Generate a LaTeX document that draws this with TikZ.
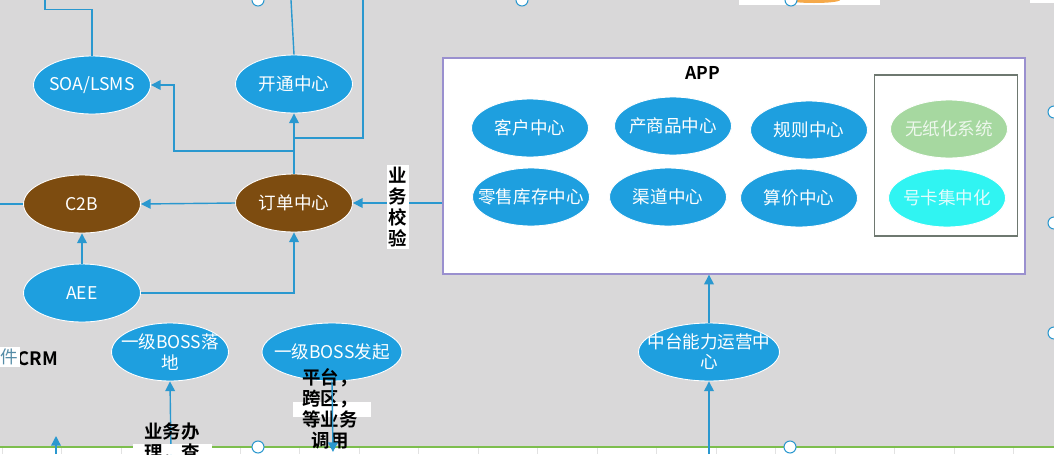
\documentclass[tikz,border=0pt]{standalone}
\usepackage{fontspec}
\setmainfont{Noto Sans CJK SC}[BoldFont={Noto Sans CJK SC Bold}]
\usetikzlibrary{arrows.meta,shapes.geometric}

\definecolor{canvas}{HTML}{D9D8D9}
\definecolor{sysblue}{HTML}{1E9FDF}
\definecolor{corebrown}{HTML}{7D4C10}
\definecolor{paperless}{HTML}{A6D8A0}
\definecolor{numcard}{HTML}{30F4F2}
\definecolor{linkblue}{HTML}{2A98CF}
\definecolor{appframe}{HTML}{9A90CF}
\definecolor{subframe}{HTML}{6E7870}
\definecolor{rulegreen}{HTML}{7DBE4E}
\definecolor{gridgray}{HTML}{E2E2E2}
\definecolor{peach}{HTML}{F5A94A}

\tikzset{
  sys/.style={ellipse, fill=sysblue, draw=white, line width=0.5pt,
    minimum width=2.34cm, minimum height=1.16cm, inner sep=0pt},
  core/.style={sys, fill=corebrown},
  txt/.style={text=white, font=\fontsize{10}{11.5}\selectfont, align=center, inner sep=0pt},
  link/.style={draw=linkblue, line width=0.8pt},
  arrow/.style={link, -{Triangle[length=5.5pt,width=5.5pt]}},
  note/.style={font=\bfseries\fontsize{10.5}{12}\selectfont, align=center, inner sep=1pt},
  handle/.style={draw=linkblue, fill=white, line width=0.6pt},
}

\begin{document}
\begin{tikzpicture}[x=0.02cm, y=-0.02cm]
\useasboundingbox (0,0) rectangle (1054,454);
\fill[canvas] (0,0) rectangle (1054,454);
% sheet below and above
\fill[white] (0,447) rectangle (1054,454);
\foreach \gx in {0,...,17}
  \draw[gridgray] ({2+59.5*\gx},447) -- ({2+59.5*\gx},454);
\draw[rulegreen, line width=1.2pt] (0,447) -- (1054,447);
\fill[white] (739,0) rectangle (880,5);
\fill[peach] (814,0) ellipse (26 and 3);
\fill[white] (1030,0) rectangle (1054,3);

% APP frame
\node[draw=appframe, fill=white, line width=0.8pt, minimum width=11.64cm,
  minimum height=4.32cm, inner sep=0pt] (app) at (734,166) {};
\node[font=\bfseries\fontsize{10}{12}\selectfont] (appTitle) at (703,73) {APP};
\node[draw=subframe, line width=0.8pt, minimum width=2.86cm,
  minimum height=3.22cm, inner sep=0pt] (channel) at (946,155.5) {};

\node[sys, label={[txt]center:客户中心}] (kehu) at (530,128) {};
\node[sys, label={[txt]center:产商品中心}] (chanpin) at (673,126) {};
\node[sys, label={[txt]center:规则中心}] (guize) at (809,130) {};
\node[sys, label={[txt]center:零售库存中心}] (lingshou) at (531,197) {};
\node[sys, label={[txt]center:渠道中心}] (qudao) at (668,197) {};
\node[sys, label={[txt]center:算价中心}] (suanjia) at (799,198) {};
\node[sys, fill=paperless, label={[txt, text=white!80!paperless]center:无纸化系统}] (wuzhi) at (949,129) {};
\node[sys, fill=numcard, label={[txt, text=white!85!numcard]center:号卡集中化}] (haoka) at (947,198) {};

% left side
\node[sys, label={[txt]center:SOA/LSMS}] (soa) at (92,85) {};
\node[sys, label={[txt]center:开通中心}] (kaitong) at (294,84) {};
\node[core, label={[txt]center:C2B}] (c2b) at (82,204) {};
\node[core, label={[txt]center:订单中心}] (dingdan) at (294,203) {};
\node[sys, label={[txt]center:AEE}] (aee) at (82,293) {};
\node[sys, label={[txt]center:一级BOSS落\\地}] (bossLand) at (170,352) {};
\node[sys, minimum width=2.8cm, label={[txt]center:一级BOSS发起}] (bossStart) at (332,352) {};
\node[sys, minimum width=2.82cm, label={[txt]center:中台能力运营中\\心}] (zhongtai) at (709,352) {};

% free ends
\coordinate (soaEnd) at (45,0);
\coordinate (ktEnd) at (291,0);
\coordinate (rightTop) at (363,0);
\coordinate (joinA) at (294,138);
\coordinate (joinB) at (294,151);
\coordinate (leftC2B) at (0,204);
\coordinate (bossIn) at (171,454);
\coordinate (bossOut) at (333,452);
\coordinate (opsIn) at (709,454);
\coordinate (crmIn) at (56,454);
\coordinate (crmTip) at (56,436);

\draw[link] (soa.north) -- ++(0,-46) -| (soaEnd);
\draw[link] (kaitong.north) -- (ktEnd);
\draw[link] (rightTop) |- (joinA);
\draw[arrow] (dingdan.north) -- (kaitong.south);
\draw[arrow] (joinB) -- ++(-120,0) |- (soa.east);
\draw[arrow] (dingdan.west) -- (c2b.east);
\draw[arrow] (app.west |- dingdan) -- (dingdan.east);
\draw[link] (leftC2B) -- (c2b.west);
\draw[arrow] (aee.north) -- (c2b.south);
\draw[arrow] (aee.east) -| (dingdan.south);
\draw[arrow] (bossIn) -- (bossLand.south);
\draw[arrow] (opsIn) -- (zhongtai.south);
\draw[arrow] (zhongtai.north) -- (zhongtai |- app.south);
\draw[arrow] (crmIn) -- (crmTip);

% notes
\fill[white] (293,402) rectangle (371,417);
\fill[white] (133,444) rectangle (212,454);
\node[note, fill=white] (verify) at (398,207) {业\\务\\校\\验};
\node[note] (crm) at (38,359) {CRM};
\node[fill=white, text=linkblue!50!gray, inner sep=1pt,
  font=\fontsize{10}{12}\selectfont] (jian) at (9,357) {件};
\node[note] (platNote) at (330,409) {平台，\\跨区，\\等业务\\调用};
\node[note] (handleNote) at (172,442) {业务办\\理，查};
\draw[arrow] (bossStart.south) -- (bossOut);

\foreach \hx/\hy in {258/0, 522/0, 791/0, 258/447, 790/447, 1054/112, 1054/223, 1054/333}
  \draw[handle] (\hx,\hy) circle (6);
\end{tikzpicture}
\end{document}
